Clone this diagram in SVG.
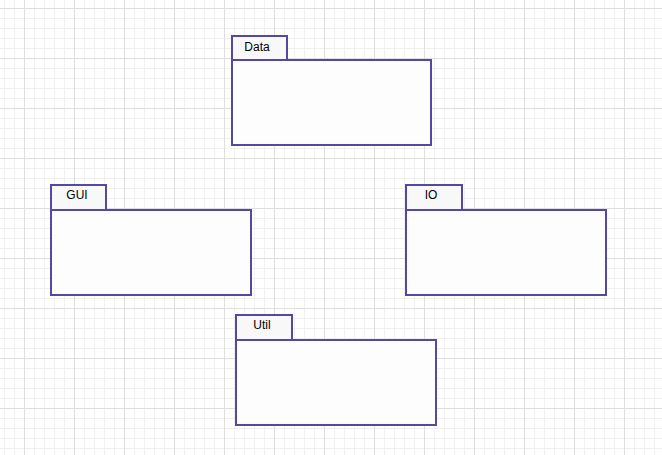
<svg xmlns="http://www.w3.org/2000/svg" width="662" height="455" viewBox="0 0 662 455">
  <defs>
    <pattern id="minor" x="4" y="8" width="10" height="10" patternUnits="userSpaceOnUse">
      <path d="M0.5 0 V10 M0 0.5 H10" fill="none" stroke="#f0f0f0" stroke-width="1"/>
    </pattern>
    <pattern id="major" x="24" y="8" width="50" height="50" patternUnits="userSpaceOnUse">
      <path d="M0.5 0 V50 M0 0.5 H50" fill="none" stroke="#dedede" stroke-width="1"/>
    </pattern>
  </defs>
  <style>
    .tab { fill: #f8f8f8; stroke: #5548a2; stroke-width: 2; }
    .body { fill: #fdfdfd; stroke: #5548a2; stroke-width: 2; }
    .lbl { font-family: "Liberation Sans", Arial, sans-serif; font-size: 12px; fill: #000; text-anchor: middle; }
  </style>
  <rect width="662" height="455" fill="#ffffff"/>
  <rect width="662" height="455" fill="url(#minor)"/>
  <rect width="662" height="455" fill="url(#major)"/>
  <g id="connectors"></g>
  <g id="data">
    <rect class="tab" x="232" y="36" width="55" height="24"/>
    <rect class="body" x="232" y="60" width="199" height="85"/>
    <text class="lbl" x="257" y="51">Data</text>
  </g>
  <g id="gui">
    <rect class="tab" x="51" y="185" width="55" height="25"/>
    <rect class="body" x="51" y="210" width="200" height="85"/>
    <text class="lbl" x="77" y="199">GUI</text>
  </g>
  <g id="io">
    <rect class="tab" x="406" y="185" width="56" height="25"/>
    <rect class="body" x="406" y="210" width="200" height="85"/>
    <text class="lbl" x="431" y="199">IO</text>
  </g>
  <g id="util">
    <rect class="tab" x="236" y="315" width="56" height="25"/>
    <rect class="body" x="236" y="340" width="200" height="85"/>
    <text class="lbl" x="262" y="329">Util</text>
  </g>
</svg>
